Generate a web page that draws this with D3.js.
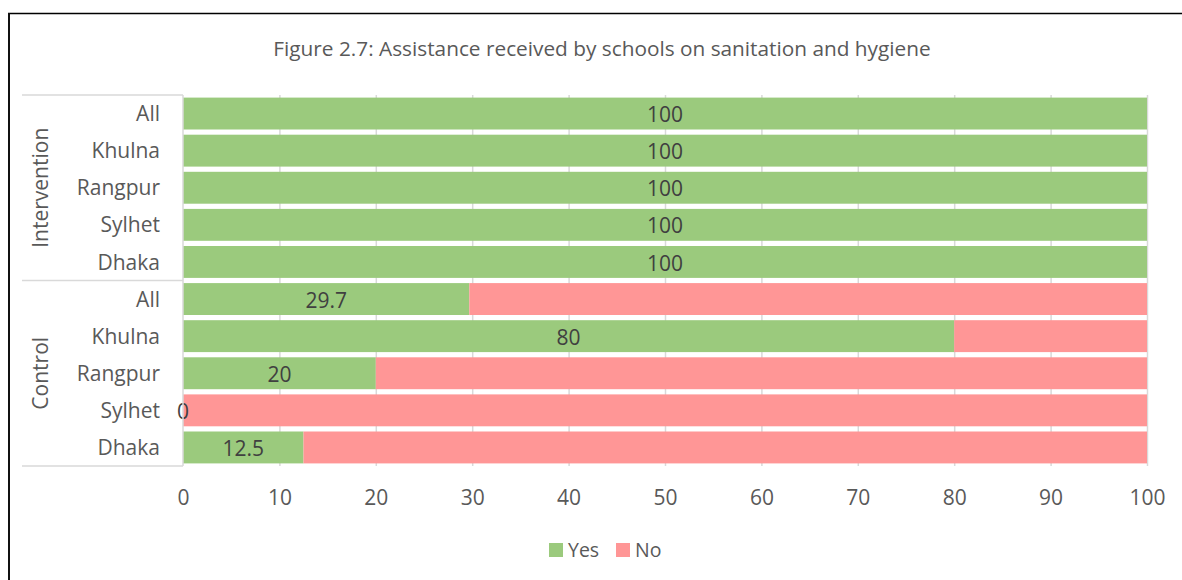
<!DOCTYPE html>
<html>
<head>
<meta charset="utf-8">
<script src="https://cdn.jsdelivr.net/npm/d3@7"></script>
<style>
  body { margin: 0; background: #fff; }
  svg { display: block; font-family: 'Open Sans', sans-serif; }
</style>
</head>
<body>
<div class="chart"></div>
<script>
var width = 1182
var height = 580

var title = 'Figure 2.7: Assistance received by schools on sanitation and hygiene'
var groups = ['Intervention', 'Control']
var regions = ['All', 'Khulna', 'Rangpur', 'Sylhet', 'Dhaka']
var yesValues = [100, 100, 100, 100, 100, 29.7, 80, 20, 0, 12.5]
var noValues = [0, 0, 0, 0, 0, 70.3, 20, 80, 100, 87.5]
var xTicks = [0, 10, 20, 30, 40, 50, 60, 70, 80, 90, 100]
var seriesNames = ['Yes', 'No']
var colors = { 'Yes': '#9bca7d', 'No': '#ff9696' }

// one row per group/region pair
var rows = []
groups.forEach(function (g, gi) {
    regions.forEach(function (r, ri) {
        var i = gi * regions.length + ri
        rows.push({ key: g + '|' + r, group: g, region: r, Yes: yesValues[i], No: noValues[i] })
    })
})

var svg = d3.select('.chart').append('svg')
    .attr('width', width)
    .attr('height', height)

// frame lines
svg.append('line').attr('x1', 8).attr('x2', width).attr('y1', 13.5).attr('y2', 13.5)
    .attr('stroke', '#000').attr('stroke-width', 1.5)
svg.append('line').attr('x1', 9).attr('x2', 9).attr('y1', 13).attr('y2', height)
    .attr('stroke', '#111').attr('stroke-width', 2)

svg.append('text')
    .attr('x', 602).attr('y', 56)
    .attr('text-anchor', 'middle')
    .attr('font-size', 20.8)
    .attr('fill', '#595959')
    .text(title)

var x = d3.scaleLinear().domain([0, 100]).range([183, 1147])
var y = d3.scaleBand().domain(rows.map(function (d) { return d.key })).range([95, 466]).paddingInner(0.14).paddingOuter(0.07)

// gridlines
svg.append('g').selectAll('line')
    .data(xTicks.slice(1))
    .enter().append('line')
    .attr('x1', function (d) { return x(d) + 0.5 }).attr('x2', function (d) { return x(d) + 0.5 })
    .attr('y1', 95).attr('y2', 466)
    .attr('stroke', '#d9d9d9').attr('stroke-width', 1.5)

var stacked = d3.stack().keys(seriesNames)(rows)

svg.append('g').selectAll('g')
    .data(stacked)
    .enter().append('g')
    .attr('fill', function (s) { return colors[s.key] })
    .selectAll('rect')
    .data(function (s) { return s })
    .enter().append('rect')
    .attr('x', function (d) { return x(d[0]) })
    .attr('width', function (d) { return x(d[1]) - x(d[0]) })
    .attr('y', function (d) { return y(d.data.key) })
    .attr('height', y.bandwidth())

// data labels on the Yes segments
svg.append('g').selectAll('text')
    .data(stacked[0])
    .enter().append('text')
    .attr('x', function (d) { return (x(d[0]) + x(d[1])) / 2 })
    .attr('y', function (d) { return y(d.data.key) + y.bandwidth() / 2 + 1 })
    .attr('dy', '0.36em')
    .attr('text-anchor', 'middle')
    .attr('font-size', 21)
    .attr('fill', '#404040')
    .text(function (d) { return d.data.Yes })

// category axis: line and separators
svg.append('line').attr('x1', 183).attr('x2', 183).attr('y1', 95).attr('y2', 466)
    .attr('stroke', '#d9d9d9').attr('stroke-width', 1.5)
var groupEdges = [95, y(rows[regions.length].key) - y.step() * y.paddingInner() / 2, 466]
svg.append('g').selectAll('line')
    .data(groupEdges)
    .enter().append('line')
    .attr('x1', 22).attr('x2', 183)
    .attr('y1', function (d) { return d }).attr('y2', function (d) { return d })
    .attr('stroke', '#d9d9d9').attr('stroke-width', 1.5)

svg.append('g').selectAll('text')
    .data(rows)
    .enter().append('text')
    .attr('x', 160)
    .attr('y', function (d) { return y(d.key) + y.bandwidth() / 2 })
    .attr('dy', '0.36em')
    .attr('text-anchor', 'end')
    .attr('font-size', 21)
    .attr('fill', '#595959')
    .text(function (d) { return d.region })

svg.append('g').selectAll('text')
    .data(groups)
    .enter().append('text')
    .attr('transform', function (g, gi) {
        var cy = (groupEdges[gi] + groupEdges[gi + 1]) / 2
        return 'translate(40,' + cy + ') rotate(-90)'
    })
    .attr('dy', '0.36em')
    .attr('text-anchor', 'middle')
    .attr('font-size', 21)
    .attr('fill', '#595959')
    .text(function (g) { return g })

// value axis labels
var xAxis = svg.append('g')
    .attr('transform', 'translate(0,466)')
    .call(d3.axisBottom(x).tickValues(xTicks).tickSize(0).tickPadding(24))
xAxis.select('.domain').remove()
xAxis.selectAll('text')
    .attr('font-family', 'Open Sans, sans-serif')
    .attr('font-size', 21)
    .attr('fill', '#595959')

// legend
var legend = svg.append('g').attr('transform', 'translate(549,543)')
var legendX = [0, 67]
seriesNames.forEach(function (name, i) {
    legend.append('rect')
        .attr('x', legendX[i]).attr('y', 0)
        .attr('width', 14).attr('height', 14)
        .attr('fill', colors[name])
    legend.append('text')
        .attr('x', legendX[i] + 19).attr('y', 7)
        .attr('dy', '0.36em')
        .attr('font-size', 19.5)
        .attr('fill', '#595959')
        .text(name)
})
</script>
</body>
</html>
